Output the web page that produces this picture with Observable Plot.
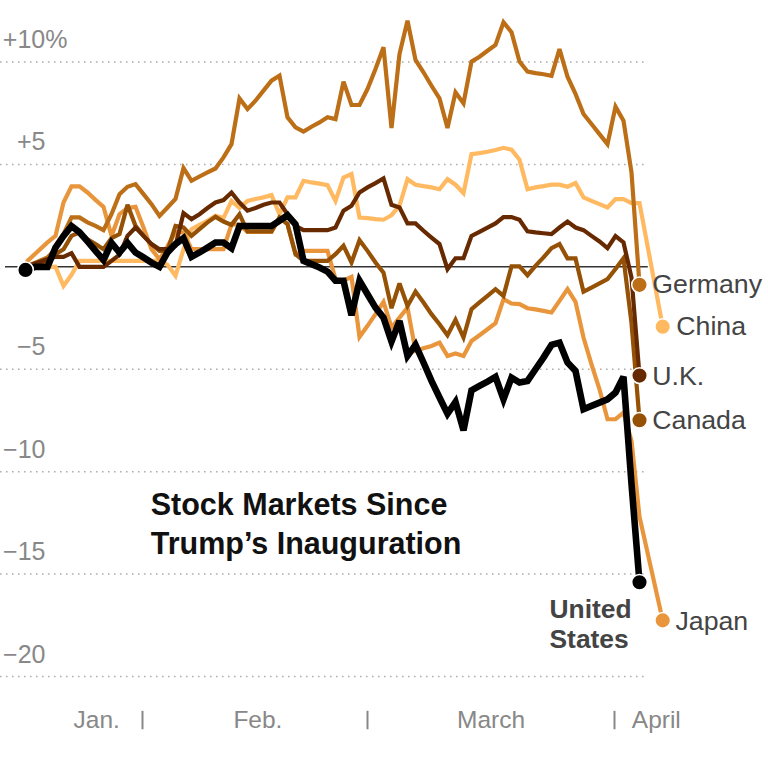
<!DOCTYPE html>
<html>
<head>
<meta charset="utf-8">
<script src="https://cdn.jsdelivr.net/npm/d3@7"></script>
<script src="https://cdn.jsdelivr.net/npm/@observablehq/plot@0.6"></script>
<style>
html,body{margin:0;padding:0;background:#fff}
svg{display:block;max-width:none}
</style>
</head>
<body>
<div id="chart"></div>
<script>
// x = days since the base date (one unit = one calendar day); y = percent change
const days = d3.range(3, 78); // 3 .. 77

const chinaValues = [0, -.93, -.39, .29, .29, .29, .29, .29, .29, .29, .29, .29, .29, .3, .1, -.44, .86, 1.84, 2.05, 2.25, 2.49, 2.38, 3.22, 2.87, 3.22, 3.31, 3.39, 3.5, 2.57, 3.39, 3.39, 4.2, 4.12, 4.06, 3.99, 3.22, 4.36, 4.53, 2.41, 2.38, 2.33, 2.3, 2.52, 2.98, 4.28, 4.01, 3.94, 3.88, 3.79, 4.28, 4.01, 3.6, 5.5, 5.55, 5.62, 5.7, 5.81, 5.72, 5.23, 3.79, 3.88, 3.94, 4.01, 4.01, 3.91, 4.09, 3.39, 3.22, 3.06, 2.9, 3.31, 3.31, 3.11, 3.11];
const chinaDays = d3.range(4, 78);
const chinaEnd = [79.9, -2.92];

const japanValues = [1.19, 1.51, 3.14, 3.93, 3.93, 3.63, 3.27, 2.93, 1.51, 2.57, 2.87, 2.93, 1.92, .86, .37, 1.0, 1.7, 1.68, .86, .86, .86, .86, .86, 2.08, 2.05, 1.7, 1.7, 1.7, 1.7, 2.41, 2.08, .62, .78, .78, .78, .78, -.6, -.68, -.49, -3.42, -2.88, -2.31, -1.71, -2.96, -2.48, -1.99, -4.1, -3.97, -3.86, -3.7, -4.35, -4.23, -4.35, -3.62, -3.34, -3.05, -2.75, -1.58, -1.79, -1.82, -2.02, -2.08, -2.15, -2.23, -1.66, -1.09, -1.71, -3.45, -4.76, -5.98, -7.44, -7.44, -7.12, -8.5, -12.2];
const japanStart = [0.5, .29];
const japanEnd = [79.9, -17.26];

const germanyValues = [.46, .86, 1.6, 2.41, 2.41, 2.17, 2.0, 1.79, 2.57, 3.55, 3.91, 4.04, 3.55, 3.06, 2.49, 2.9, 3.31, 4.82, 4.2, 4.41, 4.61, 4.8, 5.34, 5.99, 8.22, 7.7, 8.11, 8.6, 9.09, 9.33, 7.3, 6.81, 6.6, 6.84, 7.05, 7.3, 7.21, 9.04, 7.9, 7.9, 8.68, 9.66, 10.72, 6.78, 10.39, 12.02, 10.1, 9.5, 8.84, 8.22, 6.78, 8.52, 7.98, 10.02, 10.26, 10.55, 10.83, 11.94, 11.45, 10.02, 9.53, 9.46, 9.4, 9.32, 10.63, 9.28, 8.44, 7.46, 6.97, 6.48, 5.99, 7.82, 7.13, 4.61, -.88];

const canadaValues = [.29, .62, .86, 1.51, 1.68, 1.35, 1.11, .86, 1.4, 1.6, 3.03, 2.0, 1.51, 1.11, .78, .78, 2.0, 1.92, 1.51, 1.84, 2.17, 2.44, 2.21, 2.05, 2.57, 1.73, 1.73, 1.73, 1.73, 2.41, 2.08, .62, .29, .29, .29, .29, .62, 1.03, .21, 1.3, .78, .21, -.28, -2.02, -.81, -1.91, -1.21, -1.74, -2.31, -2.8, -3.34, -2.59, -3.45, -2.07, -1.74, -1.42, -1.09, -1.42, .02, .02, -.41, .05, .46, .91, 1.11, .41, .41, -1.21, -1.01, -.81, -.6, -.11, .42, -2.74, -7.49];

const ukValues = [.37, .49, .49, .67, 0, 0, 0, 0, .29, .59, 1.51, 1.92, 1.51, 1.11, .86, .86, 1.03, 2.62, 2.33, 2.57, 2.87, 3.14, 3.26, 3.63, 3.14, 2.74, 2.87, 3.03, 3.14, 3.14, 2.57, 2.0, 1.79, 1.79, 1.79, 1.79, 1.92, 2.74, 2.98, 3.63, 3.88, 4.09, 4.32, 3.03, 2.9, 2.12, 2.12, 1.76, 1.43, 1.11, -.11, .42, .42, 1.51, 1.71, 1.91, 2.12, 2.43, 2.43, 2.3, 1.73, 1.68, 1.64, 1.6, 1.92, 2.21, 1.92, 1.79, 1.51, 1.24, .91, 1.5, 1.19, -.52, -5.31];

const usValues = [0, .94, 1.51, 1.99, 1.69, 1.24, .78, .33, 1.17, .7, 1.17, .7, .46, .21, 0, .7, 1.11, 1.4, .49, .7, .94, 1.19, 1.19, .91, 1.99, 1.99, 1.99, 1.99, 1.99, 2.25, 2.52, 2.08, .29, .13, -.03, -.23, -.68, -.68, -2.36, -.68, -1.34, -1.99, -2.48, -3.65, -2.64, -4.35, -3.81, -4.67, -5.57, -6.38, -7.17, -6.6, -7.98, -6.03, -5.81, -5.6, -5.37, -6.47, -5.41, -5.65, -5.57, -5, -4.43, -3.81, -3.7, -4.67, -5.08, -6.95, -6.79, -6.63, -6.47, -6.14, -5.37, -10.6, -15.4];
const usStart = [[0.25, -.15], [1.5, 0]];

const colors = {China: "#ffb961", Japan: "#e9953c", Germany: "#bc6f16", Canada: "#955105", UK: "#672a00", US: "#000000"};
const sharedStart = [0.25, 0];

const yGrid = [10, 5, -5, -10, -15, -20];
const yTickValues = [10, 5, -5, -10, -15, -20];
const yTickLabels = ["+10%", "+5", "−5", "−10", "−15", "−20"];
const monthTicks = [14.875, 43, 73.875];
const monthNames = ["Jan.", "Feb.", "March", "April"];
const monthCenters = [9.15, 29.3, 58.45, 79.1];
const endLabels = ["Germany", "China", "U.K.", "Canada", "Japan"];
const endLabelX = [78.6, 81.6, 78.6, 78.6, 81.5];
const endLabelY = [-.88, -2.92, -5.37, -7.49, -17.3];
const titleLines = ["Stock Markets Since", "Trump’s Inauguration"];
const titleY = [-11.64, -13.54];
const usLabelLines = ["United", "States"];
const usLabelY = [-16.72, -18.22];

const pts = (xs, ys, s) => xs.map((x, i) => ({x, y: ys[i], s}));
const chinaPts = [...pts([sharedStart[0]], [sharedStart[1]], "China"), ...pts(chinaDays, chinaValues, "China"), ...pts([chinaEnd[0]], [chinaEnd[1]], "China")];
const japanPts = [...pts([japanStart[0]], [japanStart[1]], "Japan"), ...pts(days, japanValues, "Japan"), ...pts([japanEnd[0]], [japanEnd[1]], "Japan")];
const germanyPts = [...pts([sharedStart[0]], [sharedStart[1]], "Germany"), ...pts(days, germanyValues, "Germany")];
const canadaPts = [...pts([sharedStart[0]], [sharedStart[1]], "Canada"), ...pts(days, canadaValues, "Canada")];
const ukPts = [...pts([sharedStart[0]], [sharedStart[1]], "UK"), ...pts(days, ukValues, "UK")];
const usPts = [...usStart.map(([x, y]) => ({x, y, s: "US"})), ...pts(days, usValues, "US")];

const lastOf = a => a[a.length - 1];
const seriesOrder = [chinaPts, japanPts, germanyPts, canadaPts, ukPts];
const endDots = [...seriesOrder.map(lastOf), lastOf(usPts)];
const startDot = usPts[0];

const font = "'Liberation Sans', Arial, sans-serif";
const gray = "#888888";
const dark = "#444444";
const gridRight = 78.1;

const line = (data, w) => Plot.line(data, {x: "x", y: "y", stroke: colors[data[0].s], strokeWidth: w, strokeLinejoin: "miter", strokeMiterlimit: 3, curve: "linear"});

const chart = Plot.plot({
  width: 768,
  height: 768,
  margin: 0,
  style: {fontFamily: font, background: "#fff", overflow: "visible"},
  x: {axis: null, domain: [-2.875, 93.125], range: [0, 768]},
  y: {axis: null, domain: [-20, 10], range: [676, 61.5]},
  marks: [
    Plot.ruleY(yGrid, {x1: -2.875, x2: gridRight, stroke: "#aaaaaa", strokeWidth: 1.5, strokeDasharray: "1.5,4.5"}),
    Plot.ruleY([0], {x1: -2.25, x2: gridRight, stroke: "#333333", strokeWidth: 1.5}),
    line(chinaPts, 4.2),
    line(japanPts, 4.2),
    line(germanyPts, 4.2),
    line(canadaPts, 4.2),
    line(ukPts, 4.2),
    line(usPts, 6.6),
    Plot.dot(endDots, {x: "x", y: "y", r: 7.8, fill: d => colors[d.s], stroke: "#fff", strokeWidth: 1.5}),
    Plot.dot([startDot], {x: "x", y: "y", r: 7.8, fill: "#000", stroke: "#fff", strokeWidth: 1.5}),
    Plot.text(yTickLabels.slice(0, 1), {x: [5.5], y: yTickValues.slice(0, 1), text: d => d, dy: -22, textAnchor: "end", fontSize: 25, fill: gray}),
    Plot.text(yTickLabels.slice(1), {x: yTickLabels.slice(1).map(() => 2.75), y: yTickValues.slice(1), text: d => d, dy: -22, textAnchor: "end", fontSize: 25, fill: gray}),
    Plot.ruleX(monthTicks, {y1: -21.7, y2: -22.6, stroke: gray, strokeWidth: 2}),
    Plot.text(monthNames, {x: monthCenters, y: monthNames.map(() => -22.15), text: d => d, fontSize: 24.5, fill: gray}),
    Plot.text(endLabels, {x: endLabelX, y: endLabelY, text: d => d, textAnchor: "start", fontSize: 26.7, fill: dark}),
    Plot.text(titleLines, {x: titleLines.map(() => 15.9), y: titleY, text: d => d, textAnchor: "start", fontSize: 30.5, fontWeight: 700, fill: "#111"}),
    Plot.text(usLabelLines, {x: usLabelLines.map(() => 65.75), y: usLabelY, text: d => d, textAnchor: "start", fontSize: 26.4, fontWeight: 700, fill: dark})
  ]
});
document.getElementById("chart").appendChild(chart);
</script>
</body>
</html>
